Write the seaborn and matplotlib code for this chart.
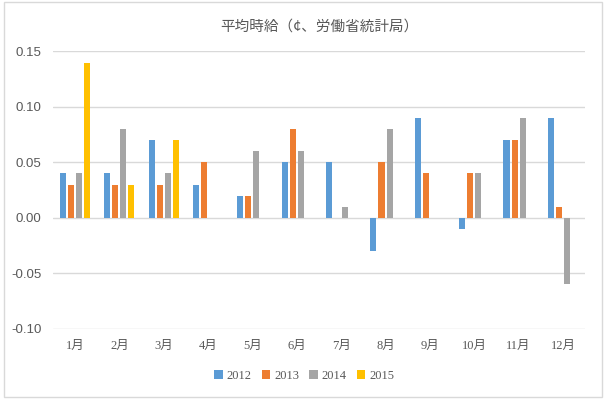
import numpy as np
import pandas as pd
import seaborn as sns
import matplotlib
matplotlib.use("Agg")
import matplotlib.pyplot as plt
from matplotlib.patches import Rectangle

# 平均時給 monthly change
months = ["1月", "2月", "3月", "4月", "5月", "6月", "7月", "8月", "9月", "10月", "11月", "12月"]
years = ["2012", "2013", "2014", "2015"]
v2012 = [0.04, 0.04, 0.07, 0.03, 0.02, 0.05, 0.05, -0.03, 0.09, -0.01, 0.07, 0.09]
v2013 = [0.03, 0.03, 0.03, 0.05, 0.02, 0.08, 0.00, 0.05, 0.04, 0.04, 0.07, 0.01]
v2014 = [0.04, 0.08, 0.04, 0.00, 0.06, 0.06, 0.01, 0.08, 0.00, 0.04, 0.09, -0.06]
v2015 = [0.14, 0.03, 0.07] + [np.nan] * 9
colors = ["#5B9BD5", "#ED7D31", "#A5A5A5", "#FFC000"]

rows = []
for yr, vals in zip(years, [v2012, v2013, v2014, v2015]):
    for m, v in zip(months, vals):
        rows.append((m, yr, v))
df = pd.DataFrame(rows, columns=["month", "year", "value"])

sns.set_theme(style="white")
plt.rcParams['font.family'] = ['Noto Sans CJK JP', 'DejaVu Sans']

fig = plt.figure(figsize=(6.07, 3.99), dpi=100)
ax = fig.add_axes([0.087, 0.176, 0.877, 0.695])

sns.barplot(data=df, x="month", y="value", hue="year", order=months, hue_order=years,
            palette=colors, width=0.727, gap=0.25, saturation=1, errorbar=None,
            linewidth=0, ax=ax)

ax.set_ylim(-0.10, 0.15)
ax.set_yticks(np.arange(-0.10, 0.151, 0.05))
ax.set_yticklabels([f"{t:.2f}" for t in np.arange(-0.10, 0.151, 0.05)],
                   family=['Liberation Sans', 'DejaVu Sans'], fontsize=9.5, color="#595959")
ax.set_xticks(range(len(months)))
ax.set_xticklabels(months, family=['Liberation Serif', 'Noto Sans CJK JP'], fontsize=9, color="#595959")
ax.tick_params(axis='x', length=0, pad=8)
ax.tick_params(axis='y', length=0, pad=8)
ax.set_xlim(-0.5, 11.5)
ax.grid(axis='y', color="#D9D9D9", linewidth=1)
ax.set_axisbelow(True)
for s in ax.spines.values():
    s.set_visible(False)
ax.set_xlabel("")
ax.set_ylabel("")

ax.set_title("平均時給（¢、労働省統計局）", fontsize=10.5, color="#595959", pad=15)

ax.legend(loc="center", bbox_to_anchor=(0.472, -0.17), ncol=4, frameon=False,
          prop={'family': ['Liberation Serif'], 'size': 9}, handlelength=0.7, handleheight=0.7,
          handletextpad=0.3, columnspacing=0.8, labelcolor="#595959")

fig.patches.append(Rectangle((0.007, 0.005), 0.985, 0.99, transform=fig.transFigure,
                             fill=False, edgecolor="#D9D9D9", linewidth=1))

fig.savefig("out.png", dpi=100)
